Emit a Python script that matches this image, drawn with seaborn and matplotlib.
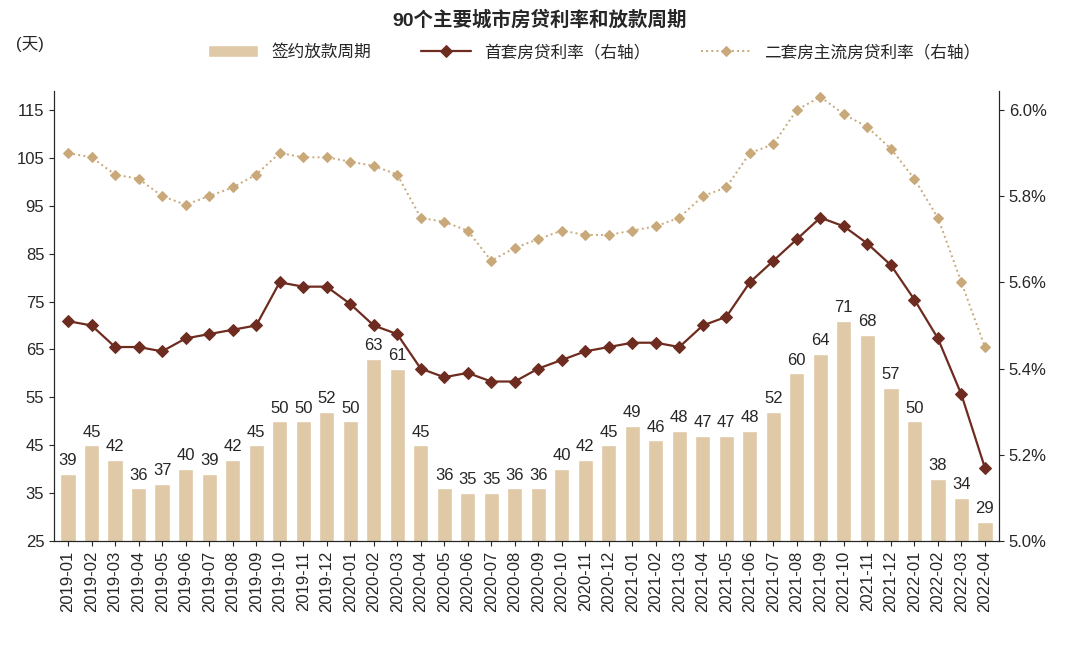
import pandas as pd
import seaborn as sns
import matplotlib.pyplot as plt

months = pd.period_range("2019-01", "2022-04", freq="M").strftime("%Y-%m").tolist()
cycle_days = [39, 45, 42, 36, 37, 40, 39, 42, 45, 50, 50, 52,
              50, 63, 61, 45, 36, 35, 35, 36, 36, 40, 42, 45,
              49, 46, 48, 47, 47, 48, 52, 60, 64, 71, 68, 57,
              50, 38, 34, 29]
first_rate = [5.51, 5.50, 5.45, 5.45, 5.44, 5.47, 5.48, 5.49, 5.50, 5.60, 5.59, 5.59,
              5.55, 5.50, 5.48, 5.40, 5.38, 5.39, 5.37, 5.37, 5.40, 5.42, 5.44, 5.45,
              5.46, 5.46, 5.45, 5.50, 5.52, 5.60, 5.65, 5.70, 5.75, 5.73, 5.69, 5.64,
              5.56, 5.47, 5.34, 5.17]
second_rate = [5.90, 5.89, 5.85, 5.84, 5.80, 5.78, 5.80, 5.82, 5.85, 5.90, 5.89, 5.89,
               5.88, 5.87, 5.85, 5.75, 5.74, 5.72, 5.65, 5.68, 5.70, 5.72, 5.71, 5.71,
               5.72, 5.73, 5.75, 5.80, 5.82, 5.90, 5.92, 6.00, 6.03, 5.99, 5.96, 5.91,
               5.84, 5.75, 5.60, 5.45]

df = pd.DataFrame({"month": months, "days": cycle_days,
                   "first": first_rate, "second": second_rate})
df["x"] = range(len(df))

sns.set_style("ticks")
plt.rcParams["font.family"] = ["Liberation Sans", "Noto Sans CJK SC", "DejaVu Sans"]

BAR, DARK, LIGHT = "#E0C9A6", "#6E2C20", "#C9A97A"

fig, ax = plt.subplots(figsize=(10.8, 6.48), dpi=100)
ax.bar(df["x"], df["days"], width=0.65, color=BAR, label="签约放款周期", zorder=1)
for x, v in zip(df["x"], df["days"]):
    ax.text(x, v + 1.2, str(v), ha="center", va="bottom", fontsize=12)
ax.set_ylim(25, 119)
ax.set_yticks(range(25, 116, 10))
ax.set_xlim(-0.6, len(df) - 0.4)
ax.set_xticks(df["x"])
ax.set_xticklabels(months, rotation=90, fontsize=12)
ax.tick_params(axis="y", labelsize=12)

ax2 = ax.twinx()
sns.lineplot(data=df, x="x", y="first", ax=ax2, color=DARK, marker="D", markersize=6,
             markeredgecolor=DARK, lw=1.6, label="首套房贷利率（右轴）", legend=False)
sns.lineplot(data=df, x="x", y="second", ax=ax2, color=LIGHT, marker="D", markersize=5,
             markeredgecolor=LIGHT, lw=1.4, ls=":", label="二套房主流房贷利率（右轴）", legend=False)
ax2.set_ylim(5.0, 6.0444)
ticks = [5.0, 5.2, 5.4, 5.6, 5.8, 6.0]
ax2.set_yticks(ticks)
ax2.set_yticklabels([f"{v:.1f}%" for v in ticks], fontsize=12)
ax2.set_ylabel("")
ax.set_xlabel("")
ax2.set_xlabel("")
for a in (ax, ax2):
    a.spines["top"].set_visible(False)

h1, l1 = ax.get_legend_handles_labels()
h2, l2 = ax2.get_legend_handles_labels()
fig.legend(h1 + h2, l1 + l2, loc="upper center", ncol=3, frameon=False,
           bbox_to_anchor=(0.55, 0.955), fontsize=12, handlelength=3, columnspacing=3)
fig.suptitle("90个主要城市房贷利率和放款周期", fontsize=14, fontweight="bold", y=0.985)
fig.text(0.015, 0.925, "(天)", fontsize=12)

fig.subplots_adjust(left=0.05, right=0.925, top=0.86, bottom=0.165)
fig.savefig("out.png")
